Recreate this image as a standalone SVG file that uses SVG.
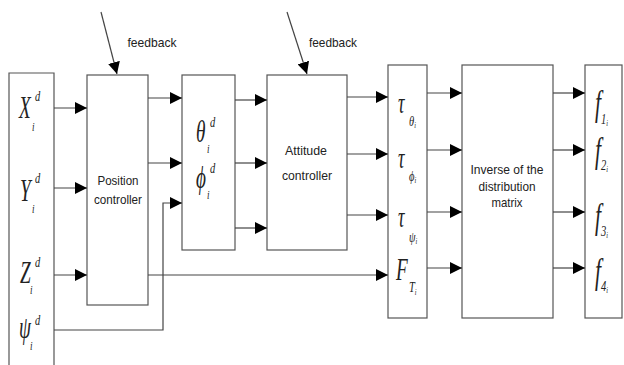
<svg xmlns="http://www.w3.org/2000/svg" width="624" height="365" viewBox="0 0 624 365">
<style>
.box{fill:#fff;stroke:#555;stroke-width:1.2}
.ln{fill:none;stroke:#444;stroke-width:1.2}
.lbl{font-family:"Liberation Sans",Arial,sans-serif;font-size:13px;fill:#222;text-anchor:middle}
.m{font-family:"Liberation Serif","Times New Roman",serif;font-style:italic;fill:#222}
.big{font-size:32px}
.sup{font-size:15px}
.sub{font-size:13px}
</style>
<defs>
<marker id="ah" markerUnits="userSpaceOnUse" markerWidth="12" markerHeight="12" refX="12" refY="6" orient="auto">
<path d="M0,0 L12,6 L0,12 z" fill="#000"/>
</marker>
</defs>
<rect width="624" height="365" fill="#fff"/>

<g id="inputs">
<path class="box" d="M9,365 V73 H54 V365"/>
<text class="m big" transform="translate(19,118) scale(0.6,1)">X</text>
<text class="m sub" transform="translate(32,131) scale(0.7,1)">i</text>
<text class="m sup" transform="translate(35,101) scale(0.7,1)">d</text>
<text class="m big" transform="translate(20,201) scale(0.6,1)">Y</text>
<text class="m sub" transform="translate(32,213) scale(0.7,1)">i</text>
<text class="m sup" transform="translate(35,183) scale(0.7,1)">d</text>
<text class="m big" transform="translate(20,283) scale(0.6,1)">Z</text>
<text class="m sub" transform="translate(30,294) scale(0.7,1)">i</text>
<text class="m sup" transform="translate(35,267) scale(0.7,1)">d</text>
<text class="m big" transform="translate(19,338) scale(0.6,1)">ψ</text>
<text class="m sub" transform="translate(30,350) scale(0.7,1)">i</text>
<text class="m sup" transform="translate(35,325) scale(0.7,1)">d</text>
</g>

<g id="position-controller">
<rect class="box" x="87" y="75" width="61" height="230"/>
<text class="lbl" x="118" y="185" textLength="41" lengthAdjust="spacingAndGlyphs">Position</text>
<text class="lbl" x="118" y="204" textLength="48" lengthAdjust="spacingAndGlyphs">controller</text>
</g>

<g id="angle-refs">
<rect class="box" x="182" y="75" width="53" height="175"/>
<text class="m big" transform="translate(196,142) scale(0.6,1)">θ</text>
<text class="m sub" transform="translate(207,153) scale(0.7,1)">i</text>
<text class="m sup" transform="translate(210,127) scale(0.7,1)">d</text>
<text class="m big" transform="translate(196,188) scale(0.6,1)">ϕ</text>
<text class="m sub" transform="translate(207,199) scale(0.7,1)">i</text>
<text class="m sup" transform="translate(210,173) scale(0.7,1)">d</text>
</g>

<g id="attitude-controller">
<rect class="box" x="267" y="75" width="80" height="175"/>
<text class="lbl" x="306" y="155" textLength="42" lengthAdjust="spacingAndGlyphs">Attitude</text>
<text class="lbl" x="307" y="180" textLength="50" lengthAdjust="spacingAndGlyphs">controller</text>
</g>

<g id="torques">
<rect class="box" x="388" y="65" width="39" height="253"/>
<text class="m" font-size="30" transform="translate(398,113) scale(0.6,1)">τ</text>
<text class="m" font-size="15" transform="translate(409,126) scale(0.7,1)">θ<tspan font-size="9" dy="2">i</tspan></text>
<text class="m" font-size="30" transform="translate(398,168) scale(0.6,1)">τ</text>
<text class="m" font-size="15" transform="translate(409,181) scale(0.7,1)">ϕ<tspan font-size="9" dy="2">i</tspan></text>
<text class="m" font-size="30" transform="translate(398,227) scale(0.6,1)">τ</text>
<text class="m" font-size="15" transform="translate(409,242) scale(0.7,1)">ψ<tspan font-size="9" dy="2">i</tspan></text>
<text class="m" font-size="32" transform="translate(396,280) scale(0.6,1)">F</text>
<text class="m" font-size="15" transform="translate(409,292) scale(0.7,1)">T<tspan font-size="9" dy="3">i</tspan></text>
</g>

<g id="inverse-distribution">
<rect class="box" x="462" y="65" width="91" height="253"/>
<text class="lbl" x="507" y="174" textLength="73" lengthAdjust="spacingAndGlyphs">Inverse of the</text>
<text class="lbl" x="507" y="191" textLength="57" lengthAdjust="spacingAndGlyphs">distribution</text>
<text class="lbl" x="507" y="207" textLength="31" lengthAdjust="spacingAndGlyphs">matrix</text>
</g>

<g id="forces">
<rect class="box" x="585" y="65" width="37" height="253"/>
<text class="m" font-size="36" transform="translate(595,115) scale(0.6,1)">f</text>
<text class="m" font-size="15" transform="translate(601,124) scale(0.7,1)">1<tspan font-size="9" dy="2">i</tspan></text>
<text class="m" font-size="36" transform="translate(595,162) scale(0.6,1)">f</text>
<text class="m" font-size="15" transform="translate(601,170) scale(0.7,1)">2<tspan font-size="9" dy="2">i</tspan></text>
<text class="m" font-size="36" transform="translate(595,228) scale(0.6,1)">f</text>
<text class="m" font-size="15" transform="translate(601,236) scale(0.7,1)">3<tspan font-size="9" dy="2">i</tspan></text>
<text class="m" font-size="36" transform="translate(595,283) scale(0.6,1)">f</text>
<text class="m" font-size="15" transform="translate(601,291) scale(0.7,1)">4<tspan font-size="9" dy="2">i</tspan></text>
</g>

<g id="feedback-labels">
<text class="lbl" x="152" y="47" textLength="49" lengthAdjust="spacingAndGlyphs">feedback</text>
<text class="lbl" x="333" y="47" textLength="48" lengthAdjust="spacingAndGlyphs">feedback</text>
</g>

<g id="connectors">
<line class="ln" x1="101" y1="12" x2="117" y2="74" marker-end="url(#ah)"/>
<line class="ln" x1="287" y1="12" x2="307" y2="74" marker-end="url(#ah)"/>
<line class="ln" x1="54" y1="108" x2="87" y2="108" marker-end="url(#ah)"/>
<line class="ln" x1="54" y1="188" x2="87" y2="188" marker-end="url(#ah)"/>
<line class="ln" x1="54" y1="275" x2="87" y2="275" marker-end="url(#ah)"/>
<path class="ln" d="M54,330 H163 V203 H182" marker-end="url(#ah)"/>
<line class="ln" x1="148" y1="98" x2="182" y2="98" marker-end="url(#ah)"/>
<line class="ln" x1="148" y1="163" x2="182" y2="163" marker-end="url(#ah)"/>
<line class="ln" x1="148" y1="275" x2="388" y2="275" marker-end="url(#ah)"/>
<line class="ln" x1="235" y1="100" x2="267" y2="100" marker-end="url(#ah)"/>
<line class="ln" x1="235" y1="163" x2="267" y2="163" marker-end="url(#ah)"/>
<line class="ln" x1="235" y1="228" x2="267" y2="228" marker-end="url(#ah)"/>
<line class="ln" x1="347" y1="97" x2="388" y2="97" marker-end="url(#ah)"/>
<line class="ln" x1="347" y1="154" x2="388" y2="154" marker-end="url(#ah)"/>
<line class="ln" x1="347" y1="215" x2="388" y2="215" marker-end="url(#ah)"/>
<line class="ln" x1="427" y1="93" x2="462" y2="93" marker-end="url(#ah)"/>
<line class="ln" x1="427" y1="150" x2="462" y2="150" marker-end="url(#ah)"/>
<line class="ln" x1="427" y1="212" x2="462" y2="212" marker-end="url(#ah)"/>
<line class="ln" x1="427" y1="268" x2="462" y2="268" marker-end="url(#ah)"/>
<line class="ln" x1="553" y1="93" x2="585" y2="93" marker-end="url(#ah)"/>
<line class="ln" x1="553" y1="150" x2="585" y2="150" marker-end="url(#ah)"/>
<line class="ln" x1="553" y1="212" x2="585" y2="212" marker-end="url(#ah)"/>
<line class="ln" x1="553" y1="268" x2="585" y2="268" marker-end="url(#ah)"/>
</g>
</svg>
